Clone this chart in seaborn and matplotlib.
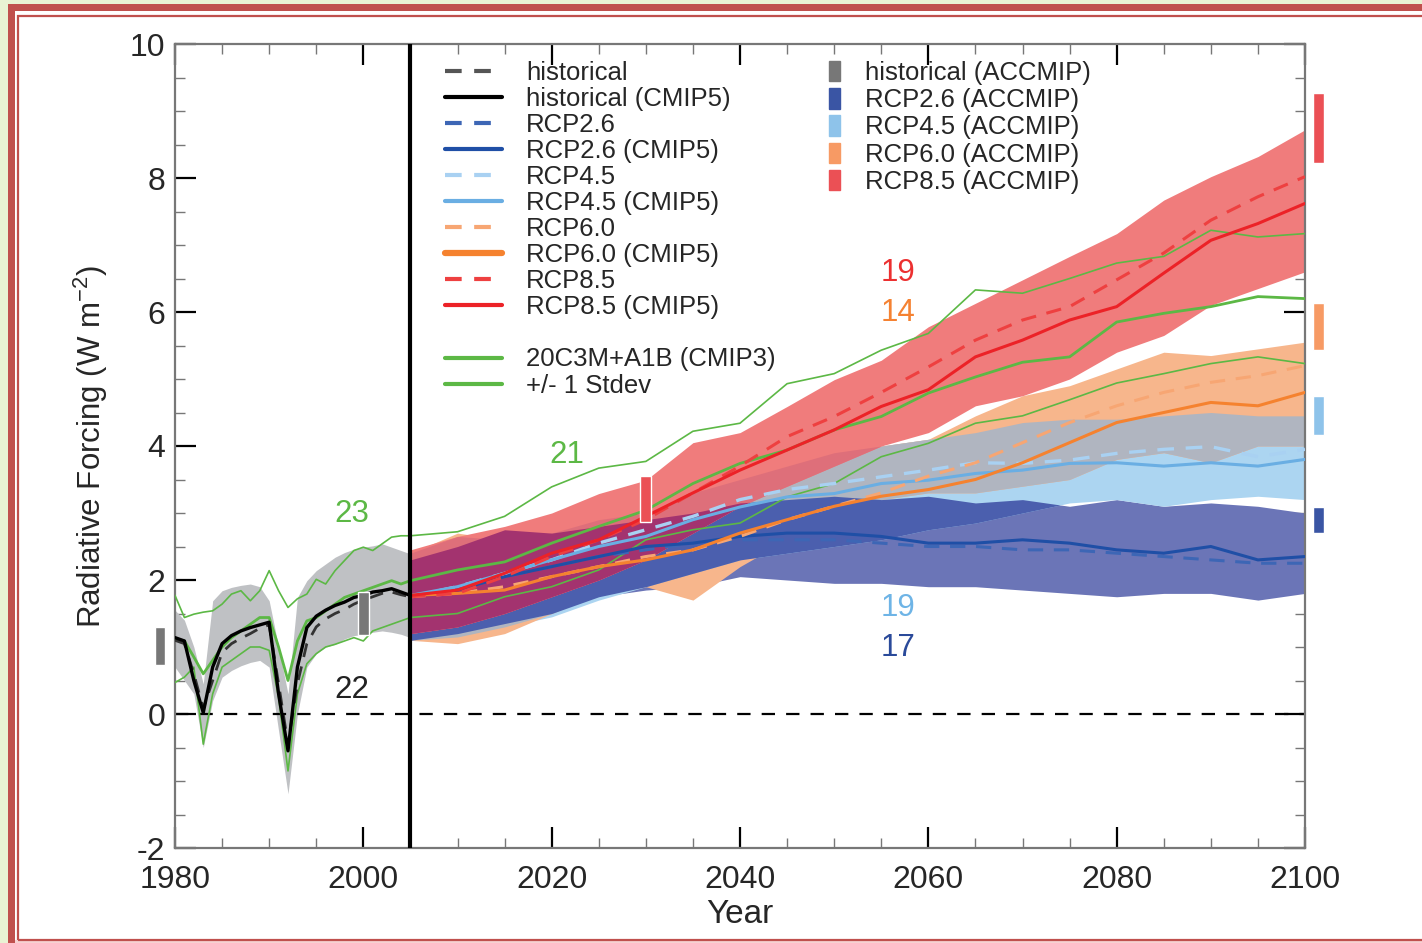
import numpy as np
import matplotlib
matplotlib.use("Agg")
import matplotlib.pyplot as plt
import seaborn as sns
from matplotlib.lines import Line2D
from matplotlib.patches import Patch, Rectangle
from matplotlib.ticker import MultipleLocator

# ---------------- data ----------------
years_h = np.arange(1980, 2006)
years_f = np.arange(2005, 2101, 5)
years_gf = np.arange(2010, 2101, 5)

hist_cmip5 = [1.14, 1.09, 0.50, 0.02, 0.70, 1.05, 1.17, 1.24, 1.29, 1.33, 1.37, 0.30, -0.55,
              0.70, 1.29, 1.46, 1.55, 1.62, 1.67, 1.74, 1.77, 1.82, 1.84, 1.87, 1.82, 1.77]
hist_dash = [1.10, 1.05, 0.60, 0.08, 0.50, 0.92, 1.05, 1.13, 1.20, 1.28, 1.33, 0.45, -0.45,
             0.45, 1.05, 1.30, 1.42, 1.50, 1.56, 1.64, 1.70, 1.75, 1.80, 1.82, 1.78, 1.75]
hist_hi = [1.55, 1.40, 1.00, 0.45, 1.69, 1.84, 1.89, 1.92, 1.94, 1.90, 1.69, 1.00, 0.30,
           1.74, 1.99, 2.14, 2.24, 2.34, 2.41, 2.46, 2.49, 2.51, 2.54, 2.49, 2.44, 2.39]
hist_lo = [0.70, 0.50, 0.30, -0.50, 0.20, 0.55, 0.65, 0.72, 0.77, 0.80, 0.70, -0.25, -1.19,
           0.00, 0.70, 0.90, 1.00, 1.04, 1.12, 1.17, 1.19, 1.22, 1.24, 1.22, 1.19, 1.14]

# CMIP3 20C3M+A1B mean and +/- 1 stdev
g_up_h = [1.77, 1.44, 1.49, 1.52, 1.54, 1.64, 1.79, 1.84, 1.69, 1.84, 2.14, 1.84, 1.59,
          1.72, 1.79, 2.01, 1.94, 2.14, 2.29, 2.44, 2.49, 2.44, 2.54, 2.64, 2.66, 2.66]
g_mid_h = [1.12, 1.09, 0.85, 0.60, 0.80, 1.00, 1.14, 1.24, 1.34, 1.44, 1.44, 1.00, 0.50,
           1.09, 1.39, 1.44, 1.54, 1.64, 1.74, 1.79, 1.84, 1.89, 1.94, 1.99, 1.94, 1.99]
g_lo_h = [0.47, 0.55, 0.70, -0.45, 0.30, 0.70, 0.80, 0.90, 1.00, 1.00, 0.95, 0.25, -0.85,
          0.30, 0.75, 0.90, 1.00, 1.04, 1.09, 1.14, 1.09, 1.24, 1.29, 1.34, 1.39, 1.44]
g_up_f = [2.72, 2.95, 3.39, 3.67, 3.77, 4.22, 4.34, 4.93, 5.08, 5.43, 5.68, 6.33, 6.28, 6.50,
          6.73, 6.83, 7.22, 7.12, 7.17]
g_mid_f = [2.15, 2.27, 2.55, 2.80, 3.04, 3.44, 3.74, 3.94, 4.24, 4.44, 4.79, 5.03, 5.25, 5.33,
           5.85, 5.98, 6.08, 6.23, 6.20]
g_lo_f = [1.50, 1.75, 1.90, 2.15, 2.60, 2.75, 2.85, 3.24, 3.44, 3.84, 4.04, 4.34, 4.45, 4.69,
          4.94, 5.08, 5.23, 5.33, 5.23]

# RCP ranges (2005-2100, every 5 years)
b26_lo = [1.10, 1.20, 1.35, 1.50, 1.75, 1.85, 1.90, 2.05, 2.00, 1.95, 1.95, 1.90, 1.90, 1.85, 1.80, 1.75, 1.80, 1.80, 1.70, 1.80]
b26_hi = [2.30, 2.50, 2.75, 2.70, 2.80, 2.90, 3.00, 3.15, 3.20, 3.25, 3.20, 3.25, 3.15, 3.20, 3.10, 3.20, 3.10, 3.15, 3.10, 3.00]
b45_lo = [1.10, 1.15, 1.30, 1.45, 1.70, 1.90, 2.10, 2.30, 2.40, 2.50, 2.60, 2.75, 2.85, 3.00, 3.15, 3.20, 3.10, 3.20, 3.25, 3.20]
b45_hi = [2.30, 2.50, 2.60, 2.70, 2.90, 3.00, 3.30, 3.50, 3.70, 3.90, 4.00, 4.10, 4.20, 4.35, 4.40, 4.40, 4.45, 4.50, 4.45, 4.45]
b60_lo = [1.10, 1.05, 1.20, 1.50, 1.80, 1.90, 1.70, 2.20, 2.60, 3.00, 3.20, 3.30, 3.30, 3.40, 3.50, 3.80, 3.90, 3.75, 4.00, 4.00]
b60_hi = [2.40, 2.70, 2.60, 2.70, 2.80, 2.90, 3.10, 3.30, 3.50, 3.80, 4.00, 4.10, 4.45, 4.75, 4.90, 5.15, 5.40, 5.35, 5.45, 5.55]
b85_lo = [1.20, 1.30, 1.50, 1.75, 2.00, 2.30, 2.70, 3.10, 3.40, 3.70, 4.00, 4.20, 4.60, 4.75, 5.00, 5.40, 5.65, 6.10, 6.35, 6.60]
b85_hi = [2.45, 2.65, 2.80, 3.00, 3.29, 3.49, 4.05, 4.20, 4.59, 4.99, 5.28, 5.78, 6.13, 6.48, 6.83, 7.17, 7.67, 8.02, 8.32, 8.72]

# RCP lines: solid = CMIP5, dashed = RCP
r26 = [1.77, 1.85, 2.05, 2.20, 2.35, 2.50, 2.55, 2.65, 2.70, 2.70, 2.65, 2.55, 2.55, 2.60, 2.55, 2.45, 2.40, 2.50, 2.30, 2.35]
r26d = [1.75, 1.85, 2.05, 2.20, 2.35, 2.45, 2.55, 2.60, 2.60, 2.60, 2.55, 2.50, 2.50, 2.45, 2.45, 2.40, 2.35, 2.30, 2.25, 2.25]
r45 = [1.77, 1.90, 2.10, 2.30, 2.50, 2.65, 2.90, 3.09, 3.24, 3.29, 3.44, 3.49, 3.59, 3.64, 3.74, 3.75, 3.70, 3.75, 3.70, 3.80]
r45d = [1.75, 1.90, 2.10, 2.30, 2.55, 2.75, 2.95, 3.20, 3.35, 3.44, 3.54, 3.64, 3.75, 3.74, 3.79, 3.89, 3.95, 3.99, 3.84, 3.95]
r60 = [1.77, 1.80, 1.85, 2.05, 2.20, 2.30, 2.45, 2.70, 2.90, 3.10, 3.25, 3.35, 3.50, 3.75, 4.05, 4.35, 4.50, 4.65, 4.60, 4.80]
r60d = [1.75, 1.80, 1.90, 2.05, 2.20, 2.35, 2.45, 2.65, 2.90, 3.10, 3.30, 3.55, 3.75, 4.05, 4.35, 4.60, 4.80, 4.95, 5.05, 5.20]
r85 = [1.77, 1.85, 2.10, 2.40, 2.60, 2.95, 3.30, 3.64, 3.94, 4.24, 4.59, 4.84, 5.33, 5.58, 5.88, 6.08, 6.58, 7.07, 7.32, 7.62]
r85d = [1.75, 1.80, 2.05, 2.35, 2.60, 2.90, 3.30, 3.70, 4.14, 4.44, 4.80, 5.18, 5.58, 5.88, 6.08, 6.48, 6.88, 7.37, 7.72, 8.02]

# ACCMIP ranges (x position, bottom, top)
acc_hist_x = [1978.4, 2000.0]
acc_hist_lo = [0.73, 1.18]
acc_hist_hi = [1.30, 1.82]
acc_end_x = 2101.4
acc_names = ["RCP2.6", "RCP4.5", "RCP6.0", "RCP8.5"]
acc_lo = [2.70, 4.16, 5.43, 8.22]
acc_hi = [3.09, 4.75, 6.13, 9.27]
acc_2030_x, acc_2030_lo, acc_2030_hi = 2030.0, 2.87, 3.55

# model counts written on the plot
count_text = ["23", "22", "21", "19", "14", "19", "17"]
count_x = [1998.8, 1998.8, 2021.6, 2056.8, 2056.8, 2056.8, 2056.8]
count_y = [2.99, 0.36, 3.87, 6.58, 5.99, 1.58, 0.99]

# ---------------- style ----------------
sns.set_theme(style="ticks")
plt.rcParams["font.family"] = ["Liberation Sans", "DejaVu Sans"]
plt.rcParams["axes.unicode_minus"] = False

c_green = "#5cb845"
c26, c26d = "#1f4fa6", "#3d66b5"
c45, c45d = "#6aaee3", "#a9d1f2"
c60, c60d = "#f5822f", "#f7a673"
c85, c85d = "#ec2227", "#ee4040"
band_26, band_45, band_60, band_85 = "#6b75b7", "#acd5f1", "#f7b68c", "#f07c7c"
ov_45_60, ov_26_45, ov_85_mid, ov_85_26 = "#b0b5c0", "#4b5fae", "#de6f7a", "#a3336f"
acc_cols = ["#3a55a4", "#8ec3ea", "#f79a64", "#eb5055"]

W, H = 1422, 943
fig = plt.figure(figsize=(W / 100, H / 100), dpi=100, facecolor="#e9f2d3")
ax = fig.add_axes([175 / W, 1 - 848 / H, 1130 / W, 804 / H])

# white page with red frame
fig.patches.append(Rectangle((8 / W, 0), 1, 1 - 4 / H, transform=fig.transFigure,
                             facecolor="white", edgecolor="none", zorder=-10))
fig.patches.append(Rectangle((8 / W, 0), 7 / W, 1 - 4 / H, transform=fig.transFigure,
                             facecolor="#c0504d", edgecolor="none", zorder=-5))
fig.patches.append(Rectangle((8 / W, 1 - 11 / H), 1, 7 / H, transform=fig.transFigure,
                             facecolor="#c0504d", edgecolor="none", zorder=-5))
fig.patches.append(Rectangle((18 / W, 1 - 939.5 / H), 1, 924 / H, transform=fig.transFigure,
                             facecolor="none", edgecolor="#c0504d", lw=1.6, zorder=-5))
fig.patches.append(Rectangle((15 / W, 0), 1, 3 / H, transform=fig.transFigure,
                             facecolor="#f6d2d2", edgecolor="none", zorder=-6))


def arr(v):
    return np.asarray(v, dtype=float)


def overlap(lo1, hi1, lo2, hi2, color, z):
    lo = np.maximum(arr(lo1), arr(lo2))
    hi = np.minimum(arr(hi1), arr(hi2))
    ax.fill_between(years_f, lo, hi, where=hi > lo, interpolate=True,
                    color=color, lw=0, zorder=z)


# historical range
ax.fill_between(years_h, hist_lo, hist_hi, color="#bfc1c4", lw=0, zorder=1)

# RCP ranges and their overlaps
ax.fill_between(years_f, b26_lo, b26_hi, color=band_26, lw=0, zorder=1.1)
ax.fill_between(years_f, b45_lo, b45_hi, color=band_45, lw=0, zorder=1.2)
ax.fill_between(years_f, b60_lo, b60_hi, color=band_60, lw=0, zorder=1.3)
overlap(b45_lo, b45_hi, b60_lo, b60_hi, ov_45_60, 1.4)
overlap(b26_lo, b26_hi, b45_lo, b45_hi, ov_26_45, 1.5)
ax.fill_between(years_f, b85_lo, b85_hi, color=band_85, lw=0, zorder=1.6)
overlap(b85_lo, b85_hi, np.minimum(arr(b45_lo), arr(b60_lo)),
        np.maximum(arr(b45_hi), arr(b60_hi)), ov_85_mid, 1.7)
overlap(b85_lo, b85_hi, b26_lo, b26_hi, ov_85_26, 1.8)

# zero line and 2005 divider
ax.axhline(0, color="black", lw=1.6, ls=(0, (6, 5)), zorder=2)
ax.axvline(2005, color="black", lw=3, zorder=6)

# CMIP3 green lines
for h, f, lw in [(g_up_h, g_up_f, 1.2), (g_mid_h, g_mid_f, 2.0), (g_lo_h, g_lo_f, 1.2)]:
    sns.lineplot(x=np.concatenate([years_h, years_gf]), y=np.concatenate([h, f]),
                 ax=ax, color=c_green, lw=lw, zorder=3, legend=False)

# RCP lines
dash = (0, (5, 3.5))
for vals, col, ls, lw in [(r26d, c26d, dash, 2.2), (r26, c26, "-", 2.2),
                          (r45d, c45d, dash, 2.4), (r45, c45, "-", 2.2),
                          (r60d, c60d, dash, 2.2), (r60, c60, "-", 2.2),
                          (r85d, c85d, dash, 2.2), (r85, c85, "-", 2.2)]:
    sns.lineplot(x=years_f, y=vals, ax=ax, color=col, linestyle=ls, lw=lw,
                 zorder=4, legend=False)

# historical lines
sns.lineplot(x=years_h, y=hist_dash, ax=ax, color="#333333", linestyle=dash, lw=2.0,
             zorder=5, legend=False)
sns.lineplot(x=years_h, y=hist_cmip5, ax=ax, color="black", lw=2.4, zorder=5, legend=False)

# ACCMIP bars
ax.bar(acc_hist_x, arr(acc_hist_hi) - arr(acc_hist_lo), bottom=acc_hist_lo, width=1.15,
       color="#777777", zorder=7, clip_on=False)
ax.bar([acc_2030_x], [acc_2030_hi - acc_2030_lo], bottom=[acc_2030_lo], width=1.15,
       color=acc_cols[3], zorder=7)
ax.bar([acc_end_x] * 4, arr(acc_hi) - arr(acc_lo), bottom=acc_lo, width=1.15,
       color=acc_cols, zorder=7, clip_on=False)

# counts
count_cols = [c_green, "#222222", c_green, "#ec3030", "#f58232", "#6eb4e6", "#2a4a9a"]
for t, x, y, c in zip(count_text, count_x, count_y, count_cols):
    ax.text(x, y, t, color=c, fontsize=22.5, ha="center", va="center", zorder=8)

# axes
ax.set_xlim(1980, 2100)
ax.set_ylim(-2, 10)
ax.set_xticks([1980, 2000, 2020, 2040, 2060, 2080, 2100])
ax.set_yticks([-2, 0, 2, 4, 6, 8, 10])
ax.xaxis.set_minor_locator(MultipleLocator(5))
ax.yaxis.set_minor_locator(MultipleLocator(0.5))
ax.tick_params(which="both", direction="in", top=True, right=True, labelsize=23)
ax.tick_params(which="major", length=15, width=1.6, color="black")
ax.tick_params(which="minor", length=7, width=1.0, color="#777777")
ax.tick_params(axis="x", which="major", pad=12)
ax.tick_params(axis="y", which="major", pad=7)
for s in ax.spines.values():
    s.set_color("#777777")
    s.set_linewidth(1.6)
ax.set_xlabel("Year", fontsize=24, labelpad=3)
ax.set_ylabel("Radiative Forcing (W m$^{\\mathregular{-2}}$)", fontsize=22.5, labelpad=14)

# legends
line_handles = [
    Line2D([], [], color="#555555", lw=3, ls=(0, (4, 3))),
    Line2D([], [], color="black", lw=3),
    Line2D([], [], color=c26d, lw=3, ls=(0, (4, 3))),
    Line2D([], [], color=c26, lw=3),
    Line2D([], [], color=c45d, lw=3, ls=(0, (4, 3))),
    Line2D([], [], color=c45, lw=3),
    Line2D([], [], color=c60d, lw=3, ls=(0, (4, 3))),
    Line2D([], [], color=c60, lw=4.5),
    Line2D([], [], color=c85d, lw=3, ls=(0, (4, 3))),
    Line2D([], [], color=c85, lw=3),
    Line2D([], [], color="none"),
    Line2D([], [], color=c_green, lw=3),
    Line2D([], [], color=c_green, lw=3),
]
line_labels = ["historical", "historical (CMIP5)", "RCP2.6", "RCP2.6 (CMIP5)", "RCP4.5",
               "RCP4.5 (CMIP5)", "RCP6.0", "RCP6.0 (CMIP5)", "RCP8.5", "RCP8.5 (CMIP5)", "",
               "20C3M+A1B (CMIP3)", "+/- 1 Stdev"]
leg1 = ax.legend(line_handles, line_labels, loc="upper left", bbox_to_anchor=(0.239, 0.979),
                 frameon=False, fontsize=18.5, handlelength=2.2, handletextpad=0.95,
                 labelspacing=0.08, borderpad=0, borderaxespad=0)
ax.add_artist(leg1)

patch_handles = [Patch(color="#777777")] + [Patch(color=c) for c in acc_cols]
patch_labels = ["historical (ACCMIP)"] + [f"{n} (ACCMIP)" for n in acc_names]
ax.legend(patch_handles, patch_labels, loc="upper left", bbox_to_anchor=(0.579, 0.979),
          frameon=False, fontsize=18.5, handlelength=0.4, handleheight=0.85,
          handletextpad=1.0, labelspacing=0.12, borderpad=0, borderaxespad=0)

fig.savefig("out.png", dpi=100, facecolor=fig.get_facecolor())
